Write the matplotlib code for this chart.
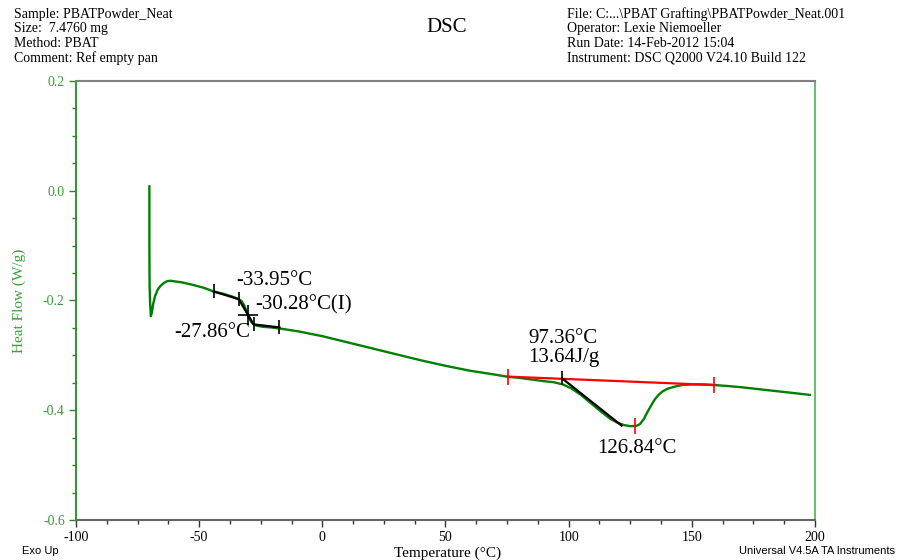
import matplotlib
matplotlib.use('Agg')
from matplotlib import pyplot as plt
from matplotlib.ticker import MultipleLocator, FormatStrFormatter

plt.rcParams['axes.unicode_minus'] = False

# heat flow trace (W/g) vs temperature (°C)
temp = [-70.2, -70.2, -70.15, -70.1, -69.9, -69.6, -69.2, -68.6, -67.9, -66.8, -65.8,
        -64.3, -63.1, -61.7, -57.0, -53.0, -48.0, -44.1, -40.0, -36.5, -34.0, -32.8,
        -31.6, -30.3, -29.0, -27.9, -26.5, -24.0, -21.0, -17.4, -10.0, 0.0, 10.0,
        20.0, 30.0, 40.0, 50.0, 60.0, 70.0, 75.3, 80.0, 85.0, 90.0, 94.0, 97.7,
        101.0, 105.0, 109.0, 113.0, 117.0, 120.0, 122.5, 125.0, 127.5, 129.0, 130.5,
        132.0, 133.5, 135.0, 136.5, 138.0, 140.0, 143.0, 146.0, 150.0, 155.0, 159.0,
        165.0, 170.0, 180.0, 190.0, 197.9]
heat_flow = [0.008, -0.09, -0.150, -0.176, -0.205, -0.2285, -0.222, -0.205, -0.192, -0.180, -0.174,
             -0.168, -0.165, -0.164, -0.167, -0.171, -0.177, -0.1836, -0.188, -0.193, -0.1975, -0.201,
             -0.210, -0.226, -0.238, -0.2436, -0.246, -0.248, -0.249, -0.251, -0.256, -0.265, -0.276,
             -0.287, -0.298, -0.309, -0.319, -0.328, -0.335, -0.339, -0.341, -0.344, -0.347, -0.349, -0.353,
             -0.360, -0.372, -0.387, -0.402, -0.416, -0.423, -0.427, -0.429, -0.4285, -0.425, -0.416,
             -0.403, -0.391, -0.380, -0.372, -0.366, -0.361, -0.357, -0.354, -0.353, -0.353, -0.354,
             -0.356, -0.358, -0.363, -0.368, -0.372]

# glass transition analysis
tg_x = [-44.1, -33.95, -27.86, -17.4]
tg_y = [-0.1836, -0.1975, -0.2436, -0.249]
tg_mid = (-30.28, -0.2267)

# melting analysis
base_x = [75.3, 159.0]
base_y = [-0.3387, -0.354]
onset = (97.36, -0.342)
onset_end = (121.5, -0.428)
peak = (126.84, -0.4285)

serif = 'Liberation Serif'
sans = 'Liberation Sans'
green = '#008000'
lab_green = '#3c9c3c'

fig = plt.figure(figsize=(8.98, 5.6), dpi=100)
ax = fig.add_axes([0.0846, 0.0714, 0.823, 0.784])

ax.plot(temp, heat_flow, color=green, lw=1.7, zorder=2)

# Tg tangents and markers
ax.plot(tg_x, tg_y, color='black', lw=1.6, zorder=3)
ax.plot(tg_x, tg_y, ls='none', marker='|', ms=10, mew=1.2, color='black', zorder=4)
ax.plot([tg_mid[0]], [tg_mid[1]], ls='none', marker='+', ms=14, mew=1.2, color='black', zorder=4)

# melting baseline, onset tangent and peak
ax.plot(base_x, base_y, color='red', lw=1.6, zorder=3)
ax.plot([onset[0], onset_end[0]], [onset[1], onset_end[1]], color='black', lw=1.6, zorder=3)
ax.plot(base_x + [peak[0]], base_y + [peak[1]], ls='none', marker='|', ms=11, mew=1.2,
        color='red', zorder=4)
ax.plot([onset[0]], [onset[1]], ls='none', marker='|', ms=10, mew=1.2, color='black', zorder=4)

tfont = dict(family=serif, size=15, color='black')
ax.text(-34.9, -0.1636, '-33.95°C', ha='left', va='center', **tfont)
ax.text(-27.1, -0.207, '-30.28°C(I)', ha='left', va='center', **tfont)
ax.text(-29.2, -0.2585, '-27.86°C', ha='right', va='center', **tfont)
ax.text(83.6, -0.269, '97.36°C', ha='left', va='center', **tfont)
ax.text(83.6, -0.3036, '13.64J/g', ha='left', va='center', **tfont)
ax.text(111.6, -0.469, '126.84°C', ha='left', va='center', **tfont)

ax.set_xlim(-100, 200)
ax.set_ylim(-0.6, 0.2)
ax.xaxis.set_major_locator(MultipleLocator(50))
ax.xaxis.set_minor_locator(MultipleLocator(12.5))
ax.yaxis.set_major_locator(MultipleLocator(0.2))
ax.yaxis.set_minor_locator(MultipleLocator(0.05))
ax.yaxis.set_major_formatter(FormatStrFormatter('%.1f'))

ax.tick_params(axis='x', which='major', direction='out', length=5, width=1, color='#333333',
               labelsize=10, labelcolor='black', pad=3)
ax.tick_params(axis='x', which='minor', direction='out', length=3, width=1, color='#333333')
ax.tick_params(axis='y', which='major', direction='out', length=5, width=1, color='#228b22',
               labelsize=10, labelcolor=lab_green, pad=3)
ax.tick_params(axis='y', which='minor', direction='out', length=3, width=1, color='#228b22')
for lbl in ax.get_xticklabels() + ax.get_yticklabels():
    lbl.set_family(serif)

ax.spines['left'].set_color('#228b22')
ax.spines['left'].set_linewidth(1.3)
ax.spines['right'].set_color('#6abf6a')
ax.spines['right'].set_linewidth(1.5)
ax.spines['top'].set_color('#808080')
ax.spines['top'].set_linewidth(1.5)
ax.spines['bottom'].set_color('#666666')
ax.spines['bottom'].set_linewidth(1.5)

ax.set_ylabel('Heat Flow (W/g)', family=serif, size=11, color=lab_green, labelpad=12)
fig.text(0.498, 1 - 553 / 560, 'Temperature (°C)', family=serif, size=11, ha='center', va='center')

# header block
fig.text(0.497, 1 - 28 / 560, 'DSC', family=serif, size=15, ha='center', va='center')
left_lines = ['Sample: PBATPowder_Neat', 'Size:  7.4760 mg', 'Method: PBAT', 'Comment: Ref empty pan']
right_lines = ['File: C:...\\PBAT Grafting\\PBATPowder_Neat.001', 'Operator: Lexie Niemoeller',
               'Run Date: 14-Feb-2012 15:04', 'Instrument: DSC Q2000 V24.10 Build 122']
for i, (l, r) in enumerate(zip(left_lines, right_lines)):
    yy = 1 - (14.5 + 14.4 * i) / 560
    fig.text(14 / 898, yy, l, family=serif, size=10, ha='left', va='center')
    fig.text(567 / 898, yy, r, family=serif, size=10, ha='left', va='center')

fig.text(22 / 898, 1 - 551 / 560, 'Exo Up', family=sans, size=8, ha='left', va='center')
fig.text(895 / 898, 1 - 551 / 560, 'Universal V4.5A TA Instruments', family=sans, size=8,
         ha='right', va='center')

fig.savefig('out.png', dpi=100)
